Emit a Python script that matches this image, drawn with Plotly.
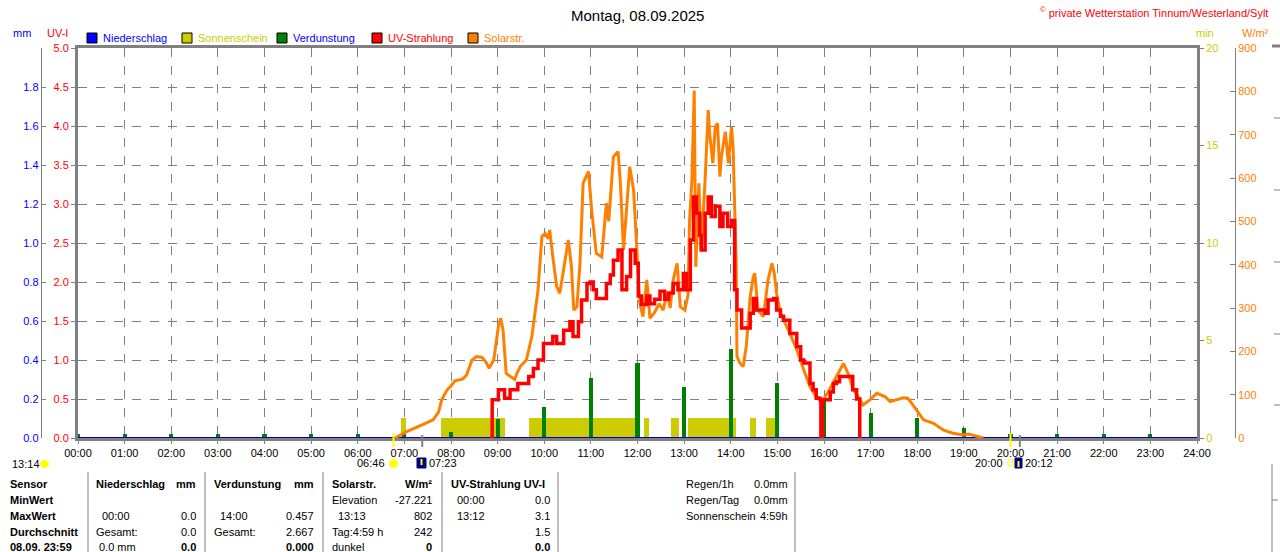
import plotly.graph_objects as go

W, H = 1280, 552

def hrs(s):
    h, m = s.split(":")
    return int(h) + int(m) / 60

# ---- data ----
hour_ticks = list(range(25))
hour_labels = [f"{h:02d}:00" for h in hour_ticks]

rain_mm = [0.0] * 25  # Niederschlag, hourly 00:00..24:00

evap_hours = list(range(24))
evap_mm = [0.02, 0.02, 0.02, 0.02, 0.02, 0.02, 0.02, 0.02, 0.03, 0.10, 0.157, 0.306,
           0.383, 0.26, 0.457, 0.284, 0.195, 0.13, 0.104, 0.053, 0.02, 0.02, 0.02, 0.02]

sun_start = ["06:56", "07:47", "09:40", "12:09", "12:43", "13:05", "14:25", "14:45"]
sun_end = ["07:02", "09:10", "11:57", "12:15", "12:53", "14:07", "14:33", "14:57"]
sun_min = [1.05, 1.05, 1.05, 1.05, 1.05, 1.05, 1.05, 1.05]

solar_time = ["06:48", "07:03", "07:25", "07:37", "07:44", "07:48", "07:55", "08:00", "08:05", "08:15",
              "08:20", "08:27", "08:33", "08:40", "08:45", "08:49", "08:55", "09:01", "09:04", "09:07",
              "09:11", "09:18", "09:22", "09:25", "09:29", "09:37", "09:44", "09:48", "09:52", "09:57",
              "10:01", "10:05", "10:07", "10:11", "10:16", "10:20", "10:24", "10:27", "10:31", "10:35",
              "10:38", "10:42", "10:46", "10:50", "10:57", "11:01", "11:07", "11:14", "11:20", "11:23",
              "11:29", "11:35", "11:38", "11:42", "11:46", "11:50", "11:55", "11:59", "12:03", "12:07",
              "12:12", "12:16", "12:22", "12:28", "12:33", "12:38", "12:42", "12:46", "12:51", "12:55",
              "13:01", "13:05", "13:07", "13:10", "13:13", "13:15", "13:19", "13:22", "13:27", "13:31",
              "13:33", "13:37", "13:40", "13:43", "13:46", "13:48", "13:53", "13:57", "14:01", "14:03",
              "14:07", "14:08", "14:12", "14:16", "14:20", "14:25", "14:29", "14:31", "14:35", "14:42",
              "14:48", "14:53", "14:56", "14:59", "15:04", "15:16", "15:25", "15:34", "15:42", "15:50",
              "15:59", "16:08", "16:16", "16:25", "16:31", "16:38", "16:44", "16:50", "16:59", "17:08",
              "17:19", "17:25", "17:42", "17:48", "17:59", "18:08", "18:21", "18:34", "18:46", "18:59",
              "19:06", "19:19", "19:25"]
solar_wm2 = [0, 15, 32, 42, 60, 88, 111, 120, 132, 136,
             145, 180, 188, 186, 175, 161, 180, 257, 276, 249,
             149, 141, 135, 150, 165, 180, 234, 288, 342, 465,
             472, 460, 480, 418, 350, 334, 380, 418, 457, 395,
             295, 303, 403, 588, 615, 526, 426, 418, 542, 500,
             649, 661, 588, 434, 534, 626, 572, 434, 311, 280,
             365, 276, 290, 310, 295, 334, 300, 365, 403, 303,
             295, 330, 503, 595, 802, 395, 588, 434, 595, 757,
             700, 634, 718, 726, 603, 650, 707, 634, 718, 672,
             403, 188, 172, 165, 211, 326, 372, 380, 295, 280,
             365, 403, 380, 334, 288, 242, 203, 157, 118, 95,
             88, 115, 141, 172, 149, 111, 95, 76, 88, 103,
             95, 84, 93, 92, 65, 42, 34, 18, 11, 7,
             9, 3, 0]

uv_time = ["08:52", "08:53", "09:01", "09:09", "09:16", "09:26", "09:40", "09:46", "09:52", "09:59",
           "10:11", "10:16", "10:25", "10:33", "10:37", "10:44", "10:48", "10:55", "10:59", "11:03",
           "11:07", "11:20", "11:25", "11:29", "11:35", "11:40", "11:46", "11:51", "11:57", "12:01",
           "12:05", "12:12", "12:16", "12:22", "12:29", "12:35", "12:40", "12:46", "12:52", "12:59",
           "13:03", "13:08", "13:12", "13:16", "13:20", "13:22", "13:27", "13:31", "13:35", "13:40",
           "13:46", "13:50", "13:56", "14:01", "14:05", "14:08", "14:14", "14:25", "14:29", "14:33",
           "14:44", "14:48", "14:55", "14:59", "15:04", "15:08", "15:16", "15:25", "15:30", "15:34",
           "15:42", "15:46", "15:50", "15:55", "15:56", "15:58", "16:08", "16:12", "16:16", "16:20",
           "16:30", "16:37", "16:42", "16:46"]
uv_index = [0.0, 0.49, 0.62, 0.51, 0.62, 0.70, 0.79, 0.89, 1.0, 1.21,
            1.30, 1.21, 1.38, 1.49, 1.30, 1.49, 1.77, 1.98, 2.0, 1.90,
            1.79, 1.98, 2.09, 2.28, 2.41, 1.90, 2.07, 2.41, 2.24, 1.82,
            1.71, 1.82, 1.72, 1.78, 1.88, 1.78, 1.86, 1.98, 1.90, 2.11,
            1.90, 2.54, 3.09, 2.88, 2.6, 2.41, 2.88, 3.09, 2.84, 2.97,
            2.71, 2.88, 2.71, 2.79, 1.90, 1.64, 1.41, 1.60, 1.79, 1.64,
            1.60, 1.77, 1.79, 1.64, 1.56, 1.51, 1.34, 1.17, 1.0, 0.96,
            0.70, 0.62, 0.51, 0.49, 0.0, 0.49, 0.59, 0.70, 0.72, 0.79,
            0.79, 0.62, 0.50, 0.0]

GREY = "#808080"
YEL = "#cccc00"
ORANGE = "#ff8000"
FONT = "Liberation Sans"

def px(x):
    return x / W

def py(y):
    return 1 - y / H

fig = go.Figure()

s0 = [hrs(t) for t in sun_start]
s1 = [hrs(t) for t in sun_end]
fig.add_trace(go.Bar(x=[(a + b) / 2 for a, b in zip(s0, s1)], y=sun_min,
                     width=[b - a for a, b in zip(s0, s1)], marker_color=YEL,
                     marker_line_width=0, yaxis="y", name="Sonnenschein"))
fig.add_trace(go.Bar(x=evap_hours, y=evap_mm, width=0.09, marker_color="#008000",
                     marker_line_width=0, yaxis="y2", name="Verdunstung"))
fig.add_trace(go.Scatter(x=hour_ticks, y=rain_mm, mode="lines", yaxis="y2",
                         line=dict(color="#0000c8", width=2), name="Niederschlag"))
fig.add_trace(go.Scatter(x=[hrs(t) for t in solar_time], y=solar_wm2, mode="lines", yaxis="y3",
                         line=dict(color=ORANGE, width=3), name="Solarstr."))
fig.add_trace(go.Scatter(x=[hrs(t) for t in uv_time], y=uv_index, mode="lines", yaxis="y4",
                         line=dict(color="#ff0000", width=3.5, shape="hv"), name="UV-Strahlung"))

ydom = [py(438), py(48)]
tf = dict(family=FONT, size=11)

fig.update_layout(
    width=W, height=H, margin=dict(l=0, r=0, t=0, b=0, pad=0, autoexpand=False),
    plot_bgcolor="white", paper_bgcolor="white", showlegend=False,
    barmode="overlay", bargap=0,
    font=dict(family=FONT, size=11, color="black"),
    xaxis=dict(domain=[px(78), px(1197)], range=[0, 24], tickvals=hour_ticks, ticktext=hour_labels,
               showgrid=True, gridcolor=GREY, griddash="dash", gridwidth=1, zeroline=False,
               showline=True, linecolor=GREY, linewidth=3, mirror=True, automargin=False,
               ticks="outside", ticklen=3, tickcolor=GREY, tickfont=dict(tf, color="black")),
    yaxis=dict(domain=ydom, range=[0, 20], side="right", anchor="x", tickvals=[0, 5, 10, 15, 20],
               showgrid=False, zeroline=False, showline=True, linecolor=GREY, linewidth=3,
               automargin=False,
               ticks="outside", ticklen=4, tickcolor=GREY, tickfont=dict(tf, color=YEL)),
    yaxis2=dict(overlaying="y", side="left", anchor="free", position=px(40.7), range=[0, 2],
                tickvals=[0, 0.2, 0.4, 0.6, 0.8, 1.0, 1.2, 1.4, 1.6, 1.8], tickformat=".1f",
                showgrid=False, zeroline=False, showline=True, linecolor=GREY, linewidth=1,
                automargin=False,
                ticks="inside", ticklen=4, tickcolor=GREY, tickfont=dict(tf, color="#0000ff")),
    yaxis3=dict(overlaying="y", side="right", anchor="free", position=px(1235), range=[0, 900],
                dtick=100, showgrid=False, zeroline=False, showline=True, linecolor=GREY, linewidth=1,
                automargin=False,
                ticks="inside", ticklen=5, tickcolor=GREY, tickfont=dict(tf, color=ORANGE)),
    yaxis4=dict(overlaying="y", side="left", anchor="x", range=[0, 5], dtick=0.5, tickformat=".1f",
                showgrid=True, gridcolor=GREY, griddash="dash", gridwidth=1, zeroline=False,
                showline=True, linecolor=GREY, linewidth=3, automargin=False,
                ticks="outside", ticklen=4, tickcolor=GREY, tickfont=dict(tf, color="#ff0000")),
)

ann = []

def txt(x, y, s, color="black", size=11, anchor="left", bold=False):
    ann.append(dict(x=px(x), y=py(y), xref="paper", yref="paper", showarrow=False,
                    text=f"<b>{s}</b>" if bold else s, xanchor=anchor, yanchor="middle",
                    font=dict(family=FONT, size=size, color=color)))

shapes = []

def rect(x0, y0, x1, y1, fill, line="black", lw=1):
    shapes.append(dict(type="rect", xref="paper", yref="paper", x0=px(x0), x1=px(x1),
                       y0=py(y1), y1=py(y0), fillcolor=fill, line=dict(color=line, width=lw)))

def vline(x, y0, y1, color=GREY, lw=1):
    shapes.append(dict(type="line", xref="paper", yref="paper", x0=px(x), x1=px(x),
                       y0=py(y0), y1=py(y1), line=dict(color=color, width=lw)))

def hline(x0, x1, y, color=GREY, lw=1, dash="solid"):
    shapes.append(dict(type="line", xref="paper", yref="paper", x0=px(x0), x1=px(x1),
                       y0=py(y), y1=py(y), line=dict(color=color, width=lw, dash=dash)))

# title and header
txt(637, 15, "Montag, 08.09.2025", size=15, anchor="center")
txt(1270, 12, "<sup>©</sup> private Wetterstation Tinnum/Westerland/Sylt", color="#ff0000", anchor="right")
txt(22, 33, "mm", color="#0000ff", anchor="center")
txt(57, 33, "UV-I", color="#ff0000", anchor="center")
txt(1205, 33, "min", color=YEL, anchor="center")
txt(1255, 33, "W/m²", color=ORANGE, anchor="center")

# legend
legend = [(87, "#0000ff", "Niederschlag", "#0000ff"),
          (182, YEL, "Sonnenschein", YEL),
          (277, "#008000", "Verdunstung", "#0000ff"),
          (372, "#ff0000", "UV-Strahlung", "#ff0000"),
          (468, ORANGE, "Solarstr.", ORANGE)]
for x, c, label, tc in legend:
    rect(x, 33, x + 10, 43, c)
    txt(x + 14, 38, label, color=tc)

# sunrise / sunset markers below the axis
def hx(t):
    return 78 + hrs(t) * 46.625

vline(hx("06:46"), 433, 447, color="#ffff00", lw=2)
vline(hx("07:23"), 435, 447, color=GREY, lw=2)
vline(hx("20:00"), 433, 447, color="#ffff00", lw=2)
vline(hx("20:12"), 435, 447, color=GREY, lw=2)
txt(10, 464, "13:14")
shapes.append(dict(type="circle", xref="paper", yref="paper", x0=px(40), x1=px(49),
                   y0=py(468), y1=py(460), fillcolor="#ffff00", line=dict(width=0)))
txt(387, 463, "06:46", anchor="right")
shapes.append(dict(type="circle", xref="paper", yref="paper", x0=px(389), x1=px(398),
                   y0=py(468), y1=py(459), fillcolor="#ffff00", line=dict(color="#ffff80", width=1)))
rect(417, 458, 426, 468, "#000080", line="#000080")
vline(421.5, 459, 465, color="#ffff00", lw=2)
txt(427, 463, "07:23")
txt(1005, 463, "20:00", anchor="right")
rect(1008, 460, 1013, 466, "white", line="#ffff00")
rect(1015, 458, 1022, 468, "#000080", line="#000080")
vline(1018.5, 461, 467, color="#ffff00", lw=2)
txt(1023, 463, "20:12")

# neighbouring panel edge on the far right
hline(1272, 1280, 46, lw=3)
for y in [118, 190, 262, 334, 405]:
    hline(1274, 1280, y, dash="dash")
vline(1272, 464, 552)
hline(1272, 1278, 500)

# summary table
for x in [88, 205, 323, 442, 558, 795]:
    vline(x, 472, 552)

rows = [484, 500, 516, 532, 547]
for y, s in zip(rows, ["Sensor", "MinWert", "MaxWert", "Durchschnitt", "08.09. 23:59"]):
    txt(8, y, s, bold=True)

txt(94, 484, "Niederschlag", bold=True)
txt(198, 484, "mm", bold=True, anchor="right")
txt(100, 516, "00:00")
txt(198, 516, "0.0", anchor="right")
txt(94, 532, "Gesamt:")
txt(198, 532, "0.0", anchor="right")
txt(97, 547, "0.0 mm")
txt(198, 547, "0.0", bold=True, anchor="right")

txt(212, 484, "Verdunstung", bold=True)
txt(316, 484, "mm", bold=True, anchor="right")
txt(218, 516, "14:00")
txt(316, 516, "0.457", anchor="right")
txt(212, 532, "Gesamt:")
txt(316, 532, "2.667", anchor="right")
txt(316, 547, "0.000", bold=True, anchor="right")

txt(330, 484, "Solarstr.", bold=True)
txt(434, 484, "W/m²", bold=True, anchor="right")
txt(330, 500, "Elevation")
txt(434, 500, "-27.221", anchor="right")
txt(336, 516, "13:13")
txt(434, 516, "802", anchor="right")
txt(330, 532, "Tag:4:59 h")
txt(434, 532, "242", anchor="right")
txt(330, 547, "dunkel")
txt(434, 547, "0", bold=True, anchor="right")

txt(449, 484, "UV-Strahlung UV-I", bold=True)
txt(455, 500, "00:00")
txt(552, 500, "0.0", anchor="right")
txt(455, 516, "13:12")
txt(552, 516, "3.1", anchor="right")
txt(552, 532, "1.5", anchor="right")
txt(552, 547, "0.0", bold=True, anchor="right")

txt(684, 484, "Regen/1h")
txt(790, 484, "0.0mm", anchor="right")
txt(684, 500, "Regen/Tag")
txt(790, 500, "0.0mm", anchor="right")
txt(684, 516, "Sonnenschein")
txt(790, 516, "4:59h", anchor="right")

fig.update_layout(annotations=ann, shapes=shapes)

# drop the browser's default body margin so the figure sits at the window origin
fig.write_html("out.html", config={"displayModeBar": False},
               post_script="document.body.style.margin='0';document.body.style.overflow='hidden';")
